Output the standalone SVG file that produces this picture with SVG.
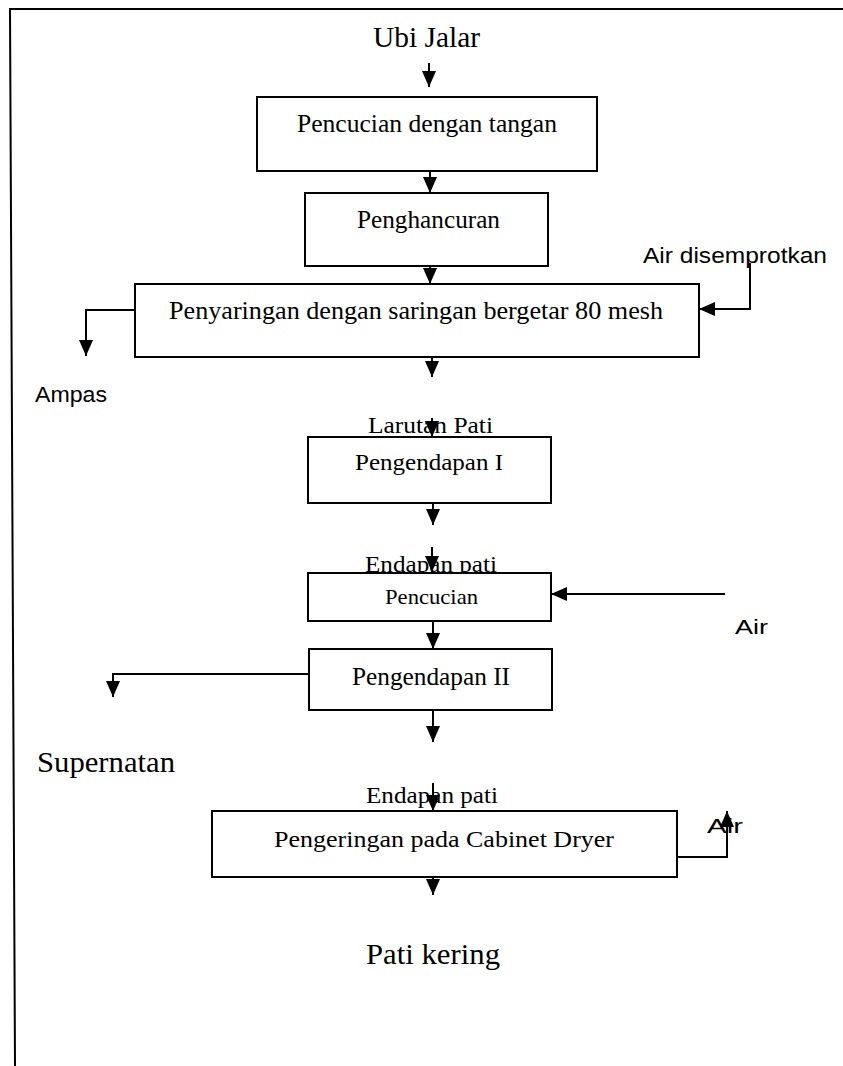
<svg xmlns="http://www.w3.org/2000/svg" width="843" height="1066" viewBox="0 0 843 1066">
<style>
.box{fill:#fff;stroke:#000;stroke-width:2}
.ln{fill:none;stroke:#000;stroke-width:2;marker-end:url(#ah)}
.frame{fill:none;stroke:#000;stroke-width:2}
.s{font-family:"Liberation Serif","Times New Roman",serif;fill:#000}
.a{font-family:"Liberation Sans",Arial,sans-serif;fill:#000}
</style>
<defs>
<marker id="ah" markerUnits="userSpaceOnUse" markerWidth="16" markerHeight="14" refX="16" refY="7" orient="auto">
<path d="M0,0 L16,7 L0,14 z" fill="#000"/>
</marker>
</defs>
<rect width="843" height="1066" fill="#fff"/>
<polyline class="frame" points="843,9 10,9 15,1066"/>

<g id="connectors">
<path class="ln" d="M429,63 V87"/>
<path class="ln" d="M430,171 V193"/>
<path class="ln" d="M430,266 V284"/>
<path class="ln" d="M135,310 H86 V356"/>
<path class="ln" d="M750,263 V309 H699"/>
<path class="ln" d="M432,357 V377"/>
<path class="ln" d="M432,418 V437"/>
<path class="ln" d="M433,503 V525"/>
<path class="ln" d="M432,547 V572"/>
<path class="ln" d="M725,594 H551"/>
<path class="ln" d="M433,621 V649"/>
<path class="ln" d="M309,674 H113 V697"/>
<path class="ln" d="M433,710 V742"/>
<path class="ln" d="M433,783 V811"/>
<path class="ln" d="M677,857 H727 V811"/>
<path class="ln" d="M433,877 V895"/>
</g>

<g id="ubi-jalar"><text class="s" x="373" y="47" font-size="29" textLength="107" lengthAdjust="spacingAndGlyphs">Ubi Jalar</text></g>

<g id="pencucian-tangan">
<rect class="box" x="257" y="97" width="340" height="74"/>
<text class="s" x="297" y="132" font-size="25" textLength="260" lengthAdjust="spacingAndGlyphs">Pencucian dengan tangan</text>
</g>

<g id="penghancuran">
<rect class="box" x="305" y="193" width="243" height="73"/>
<text class="s" x="357" y="228" font-size="25" textLength="143" lengthAdjust="spacingAndGlyphs">Penghancuran</text>
</g>

<g id="penyaringan">
<rect class="box" x="135" y="284" width="564" height="73"/>
<text class="s" x="169" y="319" font-size="25" textLength="494" lengthAdjust="spacingAndGlyphs">Penyaringan dengan saringan bergetar 80 mesh</text>
</g>

<g id="air-disemprotkan"><text class="a" x="643" y="263" font-size="22" textLength="184" lengthAdjust="spacingAndGlyphs">Air disemprotkan</text></g>

<g id="ampas"><text class="a" x="35" y="402" font-size="22" textLength="72" lengthAdjust="spacingAndGlyphs">Ampas</text></g>

<g id="larutan-pati"><text class="s" x="368" y="433" font-size="24" textLength="125" lengthAdjust="spacingAndGlyphs">Larutan Pati</text></g>

<g id="pengendapan-1">
<rect class="box" x="308" y="437" width="243" height="66"/>
<text class="s" x="355" y="470" font-size="24" textLength="148" lengthAdjust="spacingAndGlyphs">Pengendapan I</text>
</g>

<g id="endapan-pati-1"><text class="s" x="365" y="572" font-size="24" textLength="132" lengthAdjust="spacingAndGlyphs">Endapan pati</text></g>

<g id="pencucian">
<rect class="box" x="308" y="573" width="243" height="48"/>
<text class="s" x="385" y="604" font-size="21" textLength="93" lengthAdjust="spacingAndGlyphs">Pencucian</text>
</g>

<g id="air-1"><text class="a" x="735" y="634" font-size="21" textLength="33" lengthAdjust="spacingAndGlyphs">Air</text></g>

<g id="pengendapan-2">
<rect class="box" x="309" y="649" width="243" height="61"/>
<text class="s" x="352" y="685" font-size="25" textLength="158" lengthAdjust="spacingAndGlyphs">Pengendapan II</text>
</g>

<g id="supernatan"><text class="s" x="37" y="772" font-size="30" textLength="138" lengthAdjust="spacingAndGlyphs">Supernatan</text></g>

<g id="endapan-pati-2"><text class="s" x="366" y="803" font-size="24" textLength="132" lengthAdjust="spacingAndGlyphs">Endapan pati</text></g>

<g id="pengeringan">
<rect class="box" x="212" y="811" width="465" height="66"/>
<text class="s" x="274" y="847" font-size="24" textLength="340" lengthAdjust="spacingAndGlyphs">Pengeringan pada Cabinet Dryer</text>
</g>

<g id="air-2"><text class="a" x="707" y="833" font-size="21" textLength="36" lengthAdjust="spacingAndGlyphs">Air</text></g>

<g id="pati-kering"><text class="s" x="366" y="964" font-size="29" textLength="134" lengthAdjust="spacingAndGlyphs">Pati kering</text></g>
</svg>
